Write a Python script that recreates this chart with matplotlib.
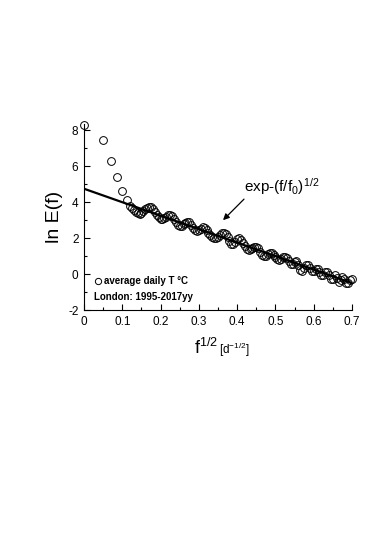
import matplotlib
matplotlib.use('Agg')
from matplotlib import pyplot as plt
from matplotlib.ticker import MultipleLocator

plt.rcParams['font.family'] = ['Liberation Sans', 'DejaVu Sans']
plt.rcParams['mathtext.fontset'] = 'custom'
plt.rcParams['mathtext.rm'] = 'Liberation Sans'
plt.rcParams['mathtext.it'] = 'Liberation Sans:italic'
plt.rcParams['mathtext.bf'] = 'Liberation Sans:bold'
plt.rcParams['axes.unicode_minus'] = False

# 低频段的几个孤立点
x_low = [0.0, 0.050, 0.071, 0.087, 0.100, 0.112]
y_low = [8.30, 7.45, 6.30, 5.40, 4.62, 4.10]

# 主体波动部分
x_band = [0.120, 0.125, 0.130, 0.135, 0.140, 0.145, 0.150, 0.155, 0.160, 0.165,
          0.170, 0.175, 0.180, 0.185, 0.190, 0.195, 0.200, 0.205, 0.210, 0.215,
          0.220, 0.225, 0.230, 0.235, 0.240, 0.245, 0.250, 0.255, 0.260, 0.265,
          0.270, 0.275, 0.280, 0.285, 0.290, 0.295, 0.300, 0.305, 0.310, 0.315,
          0.320, 0.325, 0.330, 0.335, 0.340, 0.345, 0.350, 0.355, 0.360, 0.365,
          0.370, 0.375, 0.380, 0.385, 0.390, 0.395, 0.400, 0.405, 0.410, 0.415,
          0.420, 0.425, 0.430, 0.435, 0.440, 0.445, 0.450, 0.455, 0.460, 0.465,
          0.470, 0.475, 0.480, 0.485, 0.490, 0.495, 0.500, 0.505, 0.510, 0.515,
          0.520, 0.525, 0.530, 0.535, 0.540, 0.545, 0.550, 0.555, 0.560, 0.565,
          0.570, 0.575, 0.580, 0.585, 0.590, 0.595, 0.600, 0.605, 0.610, 0.615,
          0.620, 0.625, 0.630, 0.635, 0.640, 0.645, 0.650, 0.655, 0.660, 0.665,
          0.670, 0.675, 0.680, 0.685, 0.690, 0.695, 0.700]
y_band = [3.80, 3.69, 3.58, 3.47, 3.40, 3.37, 3.41, 3.49, 3.60, 3.69,
          3.76, 3.73, 3.62, 3.46, 3.30, 3.15, 3.05, 3.04, 3.10, 3.19,
          3.26, 3.28, 3.22, 3.07, 2.89, 2.75, 2.68, 2.69, 2.76, 2.85,
          2.91, 2.88, 2.75, 2.59, 2.45, 2.40, 2.45, 2.53, 2.61, 2.56,
          2.43, 2.28, 2.16, 2.06, 2.00, 2.01, 2.09, 2.19, 2.27, 2.30,
          2.25, 2.07, 1.86, 1.68, 1.68, 1.79, 1.93, 2.00, 1.92, 1.74,
          1.55, 1.40, 1.33, 1.37, 1.45, 1.52, 1.53, 1.43, 1.25, 1.08,
          0.98, 1.01, 1.12, 1.18, 1.18, 1.08, 0.94, 0.83, 0.79, 0.84,
          0.93, 0.96, 0.88, 0.71, 0.55, 0.58, 0.69, 0.71, 0.50, 0.25,
          0.15, 0.32, 0.50, 0.48, 0.33, 0.15, 0.17, 0.26, 0.28, 0.12,
          -0.06, -0.06, 0.09, 0.14, -0.05, -0.29, -0.25, -0.06, -0.22, -0.44,
          -0.32, -0.16, -0.30, -0.51, -0.48, -0.34, -0.30]

# 拟合直线 exp-(f/f0)^1/2
fit_x = [0.0, 0.7]
fit_y = [4.75, -0.50]

fig = plt.figure(figsize=(3.74, 5.36), dpi=100)
ax = fig.add_axes([0.2246, 0.4216, 0.7166, 0.3470])

ax.plot(x_low + x_band, y_low + y_band, 'o', ms=5.6, mfc='none', mec='k', mew=0.7, clip_on=False)
ax.plot(fit_x, fit_y, color='k', lw=1.6)

ax.set_xlim(0, 0.7)
ax.set_ylim(-2, 8.35)
ax.spines['top'].set_visible(False)
ax.spines['right'].set_visible(False)
ax.xaxis.set_major_locator(MultipleLocator(0.1))
ax.xaxis.set_minor_locator(MultipleLocator(0.05))
ax.yaxis.set_major_locator(MultipleLocator(2))
ax.yaxis.set_minor_locator(MultipleLocator(1))
ax.set_xticks([0, 0.1, 0.2, 0.3, 0.4, 0.5, 0.6, 0.7])
ax.set_xticklabels(['0', '0.1', '0.2', '0.3', '0.4', '0.5', '0.6', '0.7'])
ax.tick_params(which='both', direction='in', labelsize=8.5, width=0.8)
ax.tick_params(which='major', length=4)
ax.tick_params(which='minor', length=2)
ax.tick_params(axis='y', pad=4)
ax.tick_params(axis='x', pad=4)

ax.set_ylabel('ln E(f)', fontsize=14, labelpad=4)
ax.text(0.5, -0.15, r'f$^{1/2}$', transform=ax.transAxes, fontsize=13, ha='right', va='top')
ax.text(0.505, -0.165, r'[d$^{-1/2}$]', transform=ax.transAxes, fontsize=8.5, ha='left', va='top')

# 注释
ax.text(0.418, 4.56, r'exp-(f/f$_0$)$^{1/2}$', fontsize=11)
ax.annotate('', xy=(0.358, 2.89), xytext=(0.423, 4.28),
            arrowprops=dict(arrowstyle='-|>', color='k', lw=0.9, mutation_scale=9))

# 图例
ax.plot([0.0366], [-0.39], 'o', ms=4.5, mfc='none', mec='k', mew=0.7)
ax.text(0.052, -0.39, 'average daily T \u00b0C', fontsize=7, fontweight='bold', va='center')
ax.text(0.026, -1.28, 'London: 1995-2017yy', fontsize=7, fontweight='bold', va='center')

plt.savefig('out.png', dpi=100)
